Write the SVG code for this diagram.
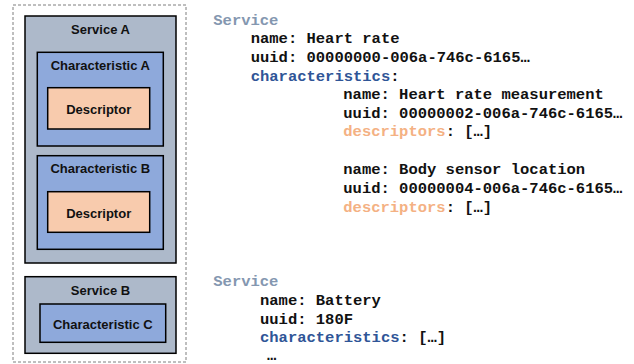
<svg xmlns="http://www.w3.org/2000/svg" width="634" height="364" viewBox="0 0 634 364">
<style>
.box{stroke:#000;stroke-width:1.5}
.svc{fill:#ADB9CA}
.chr{fill:#8EA9DB}
.dsc{fill:#F8CBAD}
.lbl{font-family:"Liberation Sans",Arial,sans-serif;font-weight:bold;font-size:13px;fill:#111;text-anchor:middle}
.code{font-family:"Liberation Mono","Courier New",monospace;font-weight:bold;font-size:15.5px;fill:#111}
.kS{fill:#8497B0}
.kC{fill:#2F5597}
.kD{fill:#F4B183}
</style>
<rect x="13" y="5" width="173" height="357" fill="none" stroke="#7f7f7f" stroke-width="1" stroke-dasharray="3,2"/>
<g id="serviceA">
<rect class="box svc" x="25" y="16" width="151" height="247"/>
<text class="lbl" x="100.5" y="33.6">Service A</text>
</g>
<g id="charA">
<rect class="box chr" x="37.3" y="52.3" width="126" height="93.7"/>
<text class="lbl" x="100.3" y="69.5">Characteristic A</text>
</g>
<g id="descA">
<rect class="box dsc" x="47.7" y="87.7" width="102" height="41.3"/>
<text class="lbl" x="98.7" y="113.5">Descriptor</text>
</g>
<g id="charB">
<rect class="box chr" x="37.3" y="155.7" width="126" height="93.6"/>
<text class="lbl" x="100.3" y="172.5">Characteristic B</text>
</g>
<g id="descB">
<rect class="box dsc" x="47.7" y="191.7" width="102" height="40.6"/>
<text class="lbl" x="98.7" y="217.5">Descriptor</text>
</g>
<g id="serviceB">
<rect class="box svc" x="25" y="276.7" width="151" height="76.6"/>
<text class="lbl" x="100.5" y="294.5">Service B</text>
</g>
<g id="charC">
<rect class="box chr" x="40" y="304" width="125.7" height="38.3"/>
<text class="lbl" x="102.8" y="328.5">Characteristic C</text>
</g>
<g id="connectors"></g>
<g id="code">
<text class="code kS" x="213.3" y="24.5">Service</text>
<text class="code" x="250.7" y="42.5">name: Heart rate</text>
<text class="code" x="250.7" y="62">uuid: 00000000-006a-746c-6165…</text>
<text class="code" x="250.7" y="80.5"><tspan class="kC">characteristics</tspan>:</text>
<text class="code" x="343.3" y="98.5">name: Heart rate measurement</text>
<text class="code" x="343.3" y="118">uuid: 00000002-006a-746c-6165…</text>
<text class="code" x="343.3" y="136"><tspan class="kD">descriptors</tspan>: […]</text>
<text class="code" x="343.3" y="173.5">name: Body sensor location</text>
<text class="code" x="343.3" y="192.5">uuid: 00000004-006a-746c-6165…</text>
<text class="code" x="343.3" y="211.5"><tspan class="kD">descriptors</tspan>: […]</text>
<text class="code kS" x="213.3" y="285.5">Service</text>
<text class="code" x="260" y="304.5">name: Battery</text>
<text class="code" x="260" y="323.5">uuid: 180F</text>
<text class="code" x="260" y="342"><tspan class="kC">characteristics</tspan>: […]</text>
<text class="code" x="267" y="360">…</text>
</g>
</svg>
